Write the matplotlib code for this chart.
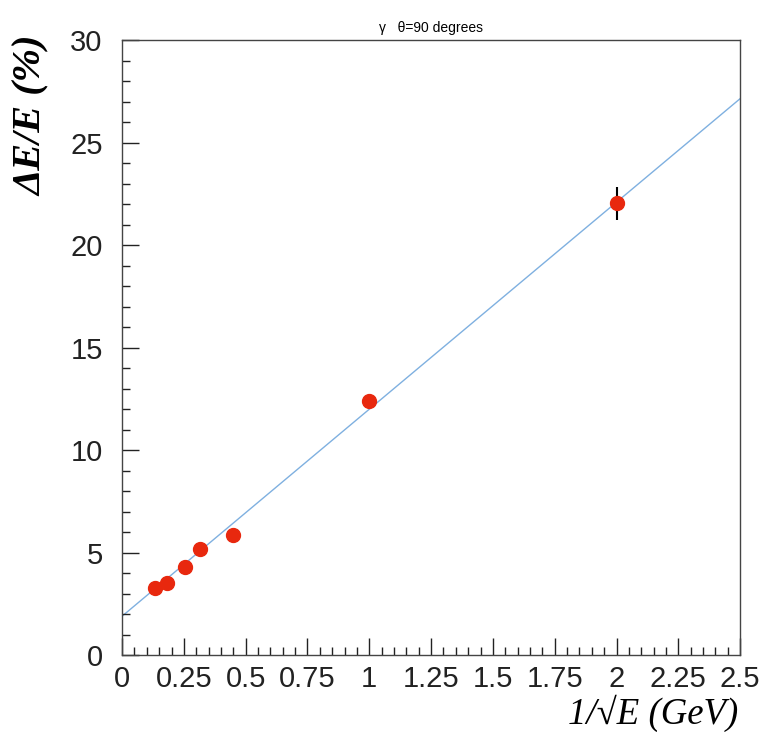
import numpy as np
import matplotlib
matplotlib.use("Agg")
import matplotlib.pyplot as plt
from matplotlib.ticker import MultipleLocator

# data
inv_sqrt_e = [0.135, 0.180, 0.255, 0.315, 0.447, 1.0, 2.0]
resolution = [3.3, 3.5, 4.3, 5.2, 5.85, 12.4, 22.05]
res_err = [0.1, 0.1, 0.1, 0.15, 0.15, 0.2, 0.8]
fit_intercept = 1.9
fit_slope = 10.1
x_ticks = [0, 0.25, 0.5, 0.75, 1, 1.25, 1.5, 1.75, 2, 2.25, 2.5]
x_tick_labels = ["0", "0.25", "0.5", "0.75", "1", "1.25", "1.5", "1.75", "2", "2.25", "2.5"]
y_ticks = [0, 5, 10, 15, 20, 25, 30]

fig = plt.figure(figsize=(7.63, 7.32), dpi=100)
ax = fig.add_axes([0.160, 0.105, 0.810, 0.840])

xf = np.array([0.0, 2.5])
ax.plot(xf, fit_intercept + fit_slope * xf, color="#7fb0e0", lw=1.0, zorder=1)
ax.errorbar(inv_sqrt_e, resolution, yerr=res_err, fmt="o", color="#e8280e",
            ecolor="black", elinewidth=1.5, capsize=0, markersize=10, zorder=3)

ax.set_xlim(0, 2.5)
ax.set_ylim(0, 30)
ax.set_xticks(x_ticks)
ax.set_xticklabels(x_tick_labels)
ax.set_yticks(y_ticks)
ax.xaxis.set_minor_locator(MultipleLocator(0.05))
ax.yaxis.set_minor_locator(MultipleLocator(1))
ax.tick_params(which="both", direction="in", top=False, right=False,
               labelsize=21, colors="#222222")
ax.tick_params(which="major", length=12, width=1.0)
ax.tick_params(which="minor", length=6, width=1.0)
ax.tick_params(axis="x", pad=7)
ax.tick_params(axis="y", pad=14)
for lab in ax.get_xticklabels() + ax.get_yticklabels():
    lab.set_family("Liberation Sans")
for s in ax.spines.values():
    s.set_color("#444444")
    s.set_linewidth(1.0)

ax.set_title("γ   θ=90 degrees", fontsize=10, family="Liberation Sans", pad=6)
fig.text(0.968, 0.0, "1/√E (GeV)", ha="right", va="bottom",
         family="Liberation Serif", style="italic", fontsize=26.5)
fig.text(0.018, 0.952, "ΔE/E (%)", ha="left", va="top", rotation=90,
         family="Liberation Serif", style="italic", weight="bold", fontsize=29)

fig.savefig("out.png", dpi=100)
